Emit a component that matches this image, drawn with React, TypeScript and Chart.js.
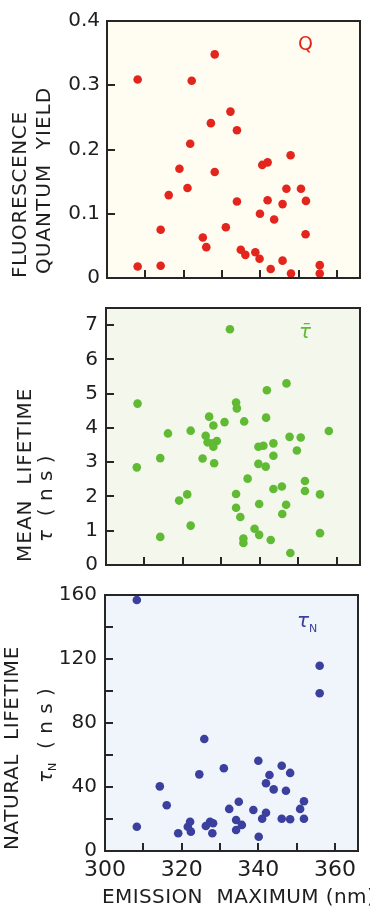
import React, { useEffect, useRef } from 'react';
import { Chart, registerables } from 'chart.js';

Chart.register(...registerables);

const FONT = '"DejaVu Sans", "Noto Sans", sans-serif';
const INK = '#1e1e1e';

// ---------- Panel 1: fluorescence quantum yield Q ----------
const qWavelength = [308, 308, 314, 314, 316.1, 318.9, 321, 321.7, 322.1, 325, 325.9, 327.1, 328.1, 328.1, 331, 332.2, 333.9, 333.9, 334.9, 336.1, 338.7, 339.8, 339.9, 340.5, 341.9, 341.9, 342.7, 343.6, 345.8, 345.8, 346.8, 347.9, 348, 350.6, 351.8, 351.9, 355.5, 355.5];
const qYield = [0.309, 0.018, 0.075, 0.019, 0.129, 0.17, 0.14, 0.209, 0.307, 0.063, 0.048, 0.241, 0.348, 0.165, 0.079, 0.259, 0.23, 0.119, 0.044, 0.036, 0.04, 0.03, 0.1, 0.176, 0.18, 0.121, 0.014, 0.091, 0.115, 0.027, 0.139, 0.191, 0.007, 0.139, 0.068, 0.12, 0.02, 0.007];

// ---------- Panel 2: mean lifetime tau (ns) ----------
const tauWavelength = [308.2, 308.0, 314.1, 314.1, 316.1, 319.0, 321.1, 322.0, 322.0, 325.1, 325.9, 326.4, 327.8, 328.8, 327.9, 326.8, 327.9, 328.1, 330.8, 332.2, 333.8, 333.8, 334.0, 333.8, 334.9, 335.7, 335.7, 335.9, 336.8, 338.6, 339.8, 339.8, 339.6, 339.6, 340.9, 341.5, 341.6, 341.8, 342.8, 343.5, 343.5, 343.5, 345.7, 345.8, 346.8, 346.9, 347.7, 347.9, 349.6, 350.6, 351.7, 351.7, 355.6, 355.6, 357.9];
const tauMean = [4.71, 2.85, 3.12, 0.82, 3.84, 1.88, 2.06, 3.92, 1.15, 3.11, 3.77, 3.58, 3.55, 3.62, 3.45, 4.33, 4.07, 2.97, 4.17, 6.88, 2.07, 4.74, 4.57, 1.67, 1.40, 0.77, 0.64, 4.19, 2.52, 1.06, 1.78, 0.88, 3.45, 2.95, 3.48, 2.87, 4.30, 5.10, 0.73, 3.55, 3.19, 2.22, 2.29, 1.49, 1.76, 5.30, 3.74, 0.35, 3.34, 3.72, 2.45, 2.16, 2.06, 0.93, 3.91];

// ---------- Panel 3: natural lifetime tauN (ns) ----------
const tauNWavelength = [308.3, 308.3, 314.3, 316.1, 319.1, 321.6, 322.2, 322.4, 324.6, 325.9, 326.3, 327.4, 328.2, 328.0, 331.0, 332.4, 334.2, 334.2, 334.9, 335.7, 338.7, 340.0, 340.1, 341.0, 342.0, 342.0, 342.9, 344.0, 346.1, 346.1, 347.2, 348.3, 348.3, 350.9, 351.9, 351.9, 356.0, 356.0];
const tauNatural = [156.9, 15.2, 40.4, 28.6, 11.1, 15.2, 18.3, 12.1, 47.9, 70, 15.6, 18.3, 17.3, 11.1, 51.7, 26.3, 19.4, 13.1, 30.8, 16.3, 25.6, 56.4, 8.9, 20.2, 23.9, 42.3, 47.5, 38.5, 53.3, 20.2, 37.7, 48.8, 19.8, 26.3, 31.1, 20.2, 115.8, 98.6];

// ---------- tick labels ----------
const xTickValues = [300, 320, 340, 360];
const xTickLabels = ['300', '320', '340', '360'];
const qTickValues = [0, 0.1, 0.2, 0.3, 0.4];
const qTickLabels = ['0', '0.1', '0.2', '0.3', '0.4'];
const tauTickValues = [0, 1, 2, 3, 4, 5, 6, 7];
const tauTickLabels = ['0', '1', '2', '3', '4', '5', '6', '7'];
const tauNTickValues = [0, 40, 80, 120, 160];
const tauNTickLabels = ['0', '40', '80', '120', '160'];

const lookup = (values: number[], labels: string[], v: number) => {
  const i = values.findIndex((t) => Math.abs(t - v) < 1e-6);
  return i >= 0 ? labels[i] : '';
};

type Seg = { text: string; size: number; italic?: boolean; shift?: number; spacing?: number };
type TextLine = { x: number; y: number; segs: Seg[] };

interface Panel {
  xs: number[];
  ys: number[];
  color: string;
  bg: string;
  yMin: number;
  yMax: number;
  yStep: number;
  yTickValues: number[];
  yTickLabels: string[];
  showX: boolean;
  pad: { top: number; right: number; bottom: number; left: number };
  yWidth: number;
  xHeight: number;
  yTickPad: number;
  titles: TextLine[];
  xTitle?: TextLine;
  tag: TextLine;
}

const segFont = (s: Seg) => `${s.italic ? 'italic ' : ''}${s.size}px ${FONT}`;

function drawSegs(ctx: CanvasRenderingContext2D, line: TextLine, rotate: boolean, color: string) {
  ctx.save();
  ctx.translate(line.x, line.y);
  if (rotate) ctx.rotate(-Math.PI / 2);
  ctx.fillStyle = color;
  ctx.textAlign = 'left';
  ctx.textBaseline = 'middle';
  let cx = 0;
  for (const s of line.segs) {
    ctx.font = segFont(s);
    (ctx as any).letterSpacing = `${s.spacing ?? 0}px`;
    ctx.fillText(s.text, cx, s.shift ?? 0);
    cx += ctx.measureText(s.text).width;
  }
  (ctx as any).letterSpacing = '0px';
  ctx.restore();
}

const TICK_LEN = 8;

function makeDecor(p: Panel) {
  return {
    id: 'panelDecor',
    beforeDraw(chart: any) {
      const { ctx, chartArea: a } = chart;
      ctx.save();
      ctx.fillStyle = p.bg;
      ctx.fillRect(a.left, a.top, a.right - a.left, a.bottom - a.top);
      ctx.restore();
    },
    afterDraw(chart: any) {
      const { ctx, chartArea: a } = chart;
      const xs = chart.scales.x;
      const ys = chart.scales.y;
      ctx.save();
      ctx.strokeStyle = '#262626';
      ctx.lineWidth = 2;
      ctx.beginPath();
      // inward tick marks from the library's own ticks
      for (const t of xs.ticks) {
        const px = Math.round(xs.getPixelForValue(t.value));
        ctx.moveTo(px, a.bottom);
        ctx.lineTo(px, a.bottom - TICK_LEN);
      }
      for (const t of ys.ticks) {
        const py = Math.round(ys.getPixelForValue(t.value));
        ctx.moveTo(a.left, py);
        ctx.lineTo(a.left + TICK_LEN, py);
      }
      ctx.stroke();
      ctx.strokeRect(a.left, a.top, a.right - a.left, a.bottom - a.top);
      ctx.restore();
      for (const t of p.titles) drawSegs(ctx, t, true, INK);
      if (p.xTitle) drawSegs(ctx, p.xTitle, false, INK);
      drawSegs(ctx, p.tag, false, p.color);
    },
  };
}

function buildConfig(p: Panel): any {
  return {
    type: 'scatter',
    data: {
      datasets: [
        {
          data: p.xs.map((x, i) => ({ x, y: p.ys[i] })),
          backgroundColor: p.color,
          borderColor: p.color,
          borderWidth: 0,
          pointRadius: 4.3,
          pointHoverRadius: 4.3,
          clip: false,
        },
      ],
    },
    options: {
      animation: false,
      responsive: false,
      devicePixelRatio: 1,
      events: [],
      layout: { padding: p.pad },
      plugins: { legend: { display: false }, tooltip: { enabled: false }, title: { display: false } },
      scales: {
        x: {
          type: 'linear',
          position: 'bottom',
          min: 300,
          max: 366,
          afterFit: (s: any) => {
            s.height = p.xHeight;
          },
          ticks: {
            stepSize: 10,
            includeBounds: false,
            autoSkip: false,
            maxRotation: 0,
            padding: 6,
            color: INK,
            font: { family: FONT, size: 22 },
            callback: (v: number) => (p.showX ? lookup(xTickValues, xTickLabels, v) : ''),
          },
          grid: { display: false, drawTicks: false },
          border: { display: false },
          title: { display: false },
        },
        y: {
          type: 'linear',
          position: 'left',
          min: p.yMin,
          max: p.yMax,
          afterFit: (s: any) => {
            s.width = p.yWidth;
          },
          ticks: {
            stepSize: p.yStep,
            includeBounds: false,
            autoSkip: false,
            padding: p.yTickPad,
            color: INK,
            font: { family: FONT, size: 20 },
            callback: (v: number) => lookup(p.yTickValues, p.yTickLabels, v),
          },
          grid: { display: false, drawTicks: false },
          border: { display: false },
        },
      },
    },
    plugins: [makeDecor(p)],
  };
}

const panels: Panel[] = [
  {
    xs: qWavelength,
    ys: qYield,
    color: '#e2261d',
    bg: '#fffcf2',
    yMin: 0,
    yMax: 0.4,
    yStep: 0.1,
    yTickValues: qTickValues,
    yTickLabels: qTickLabels,
    showX: false,
    pad: { top: 21, right: 10, bottom: 916 - 278 - 10, left: 0 },
    yWidth: 107,
    xHeight: 10,
    yTickPad: 7,
    titles: [
      { x: 21, y: 278, segs: [{ text: 'FLUORESCENCE', size: 20, spacing: 0.6 }] },
      { x: 45, y: 274, segs: [{ text: 'QUANTUM  YIELD', size: 20, spacing: 1 }] },
    ],
    tag: { x: 298, y: 45, segs: [{ text: 'Q', size: 19 }] },
  },
  {
    xs: tauWavelength,
    ys: tauMean,
    color: '#60ba33',
    bg: '#f4f8ec',
    yMin: 0,
    yMax: 7.5,
    yStep: 1,
    yTickValues: tauTickValues,
    yTickLabels: tauTickLabels,
    showX: false,
    pad: { top: 308, right: 10, bottom: 916 - 565 - 10, left: 0 },
    yWidth: 106,
    xHeight: 10,
    yTickPad: 8,
    titles: [
      { x: 26, y: 562, segs: [{ text: 'MEAN  LIFETIME', size: 20, spacing: 1 }] },
      {
        x: 47,
        y: 542,
        segs: [
          { text: 'τ', size: 20, italic: true },
          { text: '  ( n s )', size: 20, spacing: 0.5 },
        ],
      },
    ],
    tag: { x: 299, y: 333, segs: [{ text: 'τ̄', size: 20, italic: true }] },
  },
  {
    xs: tauNWavelength,
    ys: tauNatural,
    color: '#3b3f9d',
    bg: '#f0f4fb',
    yMin: 0,
    yMax: 160,
    yStep: 20,
    yTickValues: tauNTickValues,
    yTickLabels: tauNTickLabels,
    showX: true,
    pad: { top: 595, right: 12, bottom: 5, left: 0 },
    yWidth: 105,
    xHeight: 916 - 851 - 5,
    yTickPad: 8,
    titles: [
      { x: 13, y: 850, segs: [{ text: 'NATURAL  LIFETIME', size: 20, spacing: 0.6 }] },
      {
        x: 47,
        y: 783,
        segs: [
          { text: 'τ', size: 20, italic: true },
          { text: 'N', size: 11, shift: 6 },
          { text: '  ( n s )', size: 20, spacing: 0.5 },
        ],
      },
    ],
    xTitle: {
      x: 102,
      y: 898,
      segs: [
        { text: 'EMISSION  MAXIMUM', size: 20, spacing: 0.4 },
        { text: ' (nm)', size: 20, spacing: 0.4 },
      ],
    },
    tag: {
      x: 297,
      y: 622,
      segs: [
        { text: 'τ', size: 20, italic: true },
        { text: 'N', size: 11, shift: 7 },
      ],
    },
  },
];

function PanelChart({ spec }: { spec: Panel }) {
  const ref = useRef<HTMLCanvasElement>(null);
  useEffect(() => {
    if (!ref.current) return;
    const chart = new Chart(ref.current, buildConfig(spec));
    return () => chart.destroy();
  }, [spec]);
  return (
    <canvas
      ref={ref}
      width={370}
      height={916}
      style={{ position: 'absolute', left: 0, top: 0, width: 370, height: 916 }}
    />
  );
}

export default function App() {
  return (
    <div style={{ position: 'absolute', left: 0, top: 0, width: 370, height: 916, background: '#ffffff', overflow: 'hidden' }}>
      {panels.map((p, i) => (
        <PanelChart key={i} spec={p} />
      ))}
    </div>
  );
}
